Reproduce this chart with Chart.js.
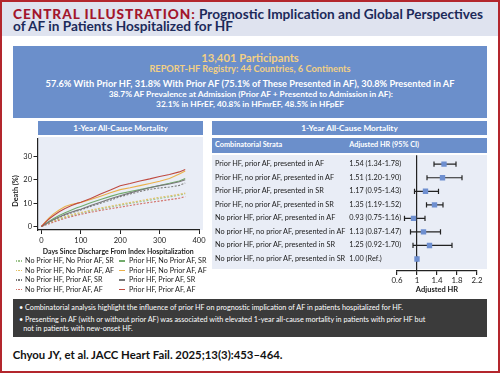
<!DOCTYPE html>
<html><head><meta charset="utf-8">
<script src="https://cdn.jsdelivr.net/npm/chart.js@4.4.1/dist/chart.umd.min.js"></script>
<style>
html,body{margin:0;padding:0;background:#fff;}
#root{position:relative;width:500px;height:373px;overflow:hidden;font-family:Lato,'Noto Sans',sans-serif;}
.abs{position:absolute;white-space:nowrap;line-height:1;}
canvas{position:absolute;}
</style></head><body>
<div id="root">
  <div class="abs" style="left:2px;top:2px;width:496px;height:34px;background:#dfe3ef"></div>
  <div class="abs" style="left:13px;top:46px;width:474px;height:72px;background:#6b8fcb"></div>
  <div class="abs" style="left:38px;top:121px;width:165px;height:14px;background:#6b8fcb"></div>
  <div class="abs" style="left:212px;top:121px;width:275px;height:14px;background:#6b8fcb"></div>
  <div class="abs" style="left:212px;top:138px;width:275px;height:14.5px;background:#6b8fcb"></div>
  <div class="abs" style="left:212px;top:155px;width:275px;height:114px;background:#e9edf6"></div>
  <div class="abs" style="left:38px;top:137px;width:165px;height:93px;background:#e9edf6"></div>
  <div class="abs" style="left:13px;top:299px;width:474px;height:38px;background:#3b3b3b"></div>
  <canvas id="km" width="210" height="127" style="left:0;top:133px;width:210px;height:127px"></canvas>
  <canvas id="forest" width="275" height="148" style="left:212px;top:150px;width:275px;height:148px"></canvas>
  <div class="abs" style="left:0;top:0;width:500px;height:373px;border:2px solid #b3262d;box-sizing:border-box;"></div>
</div>
<script>
// ---------- DATA ----------
const days = [0,10,20,30,45,60,75,90,100,125,150,175,200,225,250,275,300,325,350,365];
const seriesNames = [
  "No Prior HF, No Prior AF, SR","No Prior HF, No Prior AF, AF","No Prior HF, Prior AF, SR","No Prior HF, Prior AF, AF",
  "Prior HF, No Prior AF, SR","Prior HF, No Prior AF, AF","Prior HF, Prior AF, SR","Prior HF, Prior AF, AF"
];
const nphfNpafSR = [0,0.8,1.5,2.2,3.1,3.9,4.6,5.2,5.6,6.6,7.5,8.3,9.1,9.9,10.6,11.3,12.0,12.7,13.4,14.0];
const nphfNpafAF = [0,0.9,1.7,2.5,3.4,4.2,5.0,5.6,6.0,7.0,7.9,8.7,9.5,10.3,11.0,11.8,12.5,13.1,13.8,14.3];
const nphfPafSR  = [0,1.0,1.9,2.8,3.9,4.9,5.8,6.6,7.1,8.6,10.0,11.3,12.8,13.9,15.0,15.9,16.5,16.9,17.6,18.6];
const nphfPafAF  = [0,0.6,1.2,1.8,2.7,3.5,4.2,4.8,5.2,6.1,6.9,7.6,8.3,9.0,9.7,10.3,10.9,11.5,12.1,12.8];
const phfNpafSR  = [0,1.2,2.3,3.3,4.7,5.9,7.0,8.0,8.6,10.2,11.6,12.9,14.1,15.0,15.8,16.7,17.6,18.5,19.5,20.6];
const phfNpafAF  = [0,2.0,3.8,5.3,7.1,8.6,9.4,9.9,10.3,11.6,13.0,14.5,15.8,16.6,17.5,18.4,19.4,20.6,22.5,23.8];
const phfPafSR   = [0,1.0,2.0,2.9,4.1,5.2,6.1,6.9,7.4,9.0,10.4,11.9,13.2,14.4,15.5,16.6,17.5,18.2,19.2,20.0];
const phfPafAF   = [0,1.8,3.3,4.6,6.3,7.7,8.9,9.9,10.4,12.0,13.9,15.6,17.5,18.4,19.5,20.4,21.4,22.3,23.4,24.4];
const seriesValues = [nphfNpafSR,nphfNpafAF,nphfPafSR,nphfPafAF,phfNpafSR,phfNpafAF,phfPafSR,phfPafAF];
const seriesColors = ["#9cc48c","#e2c063","#7a7a7a","#d2726a","#72ab6c","#eab04a","#777777","#bf4a40"];
const seriesDashed = [true,true,true,true,false,false,false,false];
const dayTicks = [0,100,200,300,400];
const deathTicks = [0,10,20,30];

const strata = [
  "Prior HF, prior AF, presented in AF","Prior HF, no prior AF, presented in AF",
  "Prior HF, prior AF, presented in SR","Prior HF, no prior AF, presented in SR",
  "No prior HF, prior AF, presented in AF","No prior HF, no prior AF, presented in AF",
  "No prior HF, prior AF, presented in SR","No prior HF, no prior AF, presented in SR"
];
const hr   = [1.54,1.51,1.17,1.35,0.93,1.13,1.25,1.00];
const hrLo = [1.34,1.20,0.95,1.19,0.75,0.87,0.92,1.00];
const hrHi = [1.78,1.90,1.43,1.52,1.16,1.47,1.70,1.00];
const hrText = ["1.54 (1.34-1.78)","1.51 (1.20-1.90)","1.17 (0.95-1.43)","1.35 (1.19-1.52)",
  "0.93 (0.75-1.16)","1.13 (0.87-1.47)","1.25 (0.92-1.70)","1.00 (Ref.)"];
const hrTicks = [0.6,1,1.4,1.8,2.2];

// ---------- helpers ----------
const root = document.getElementById('root');
const FAM = "Lato, 'Noto Sans', sans-serif";
function put(html, x, y, o) {
  const d = document.createElement('div');
  d.className = 'abs';
  d.innerHTML = html;
  d.style.left = x + 'px'; d.style.top = y + 'px';
  d.style.fontSize = (o.size || 8) + 'px';
  d.style.fontWeight = o.weight || 'normal';
  d.style.color = o.color || '#1a1a1a';
  d.style.transform = (o.center ? 'translate(-50%,-50%)' : 'translateY(-50%)') + (o.rot ? ' rotate(-90deg)' : '');
  root.insertBefore(d, root.lastElementChild);
  if (o.fit) {
    const w = d.scrollWidth;
    d.style.fontSize = ((o.size || 8) * o.fit / w) + 'px';
  }
  return d;
}
function canvasSize(text, weight, target) {
  const c = document.createElement('canvas').getContext('2d');
  c.font = weight + ' 10px ' + FAM;
  return 10 * target / c.measureText(text).width;
}

// ---------- texts ----------
const t1 = put('<span style="color:#a3162c;font-weight:900;letter-spacing:0.07em">CENTRAL ILLUSTRATION:</span> <span style="color:#1c2a5a">Prognostic Implication and Global Perspectives</span>', 13, 14.5, {size:12, weight:'bold', fit:470});
put('of AF in Patients Hospitalized for HF', 13, 27, {size:parseFloat(t1.style.fontSize), weight:'bold', color:'#1c2a5a'});

put('13,401 Participants', 250, 57.5, {center:true, weight:'bold', color:'#f2cf85', fit:97});
put('REPORT-HF Registry: 44 Countries, 6 Continents', 250, 69, {center:true, weight:'bold', color:'#f2cf85', fit:201});
put('57.6% With Prior HF, 31.8% With Prior AF (75.1% of These Presented in AF), 30.8% Presented in AF', 250, 84.3, {center:true, weight:'bold', color:'#fff', fit:410});
put('38.7% AF Prevalence at Admission (Prior AF + Presented to Admission in AF):', 250.8, 94.3, {center:true, weight:'bold', color:'#fff', fit:285});
put('32.1% in HFrEF, 40.8% in HFmrEF, 48.5% in HFpEF', 250, 104, {center:true, weight:'bold', color:'#fff', fit:188});

put('1-Year All-Cause Mortality', 120.5, 128, {center:true, weight:'bold', color:'#fff', fit:95});
put('1-Year All-Cause Mortality', 349.5, 128, {center:true, weight:'bold', color:'#fff', fit:97});
put('Combinatorial Strata', 215, 145.3, {weight:'bold', color:'#fff', fit:67});
put('Adjusted HR (95% CI)', 349.3, 145.3, {weight:'bold', color:'#fff', fit:70});

const b1 = put('• Combinatorial analysis highlight the influence of prior HF on prognostic implication of AF in patients hospitalized for HF.', 19, 308.3, {color:'#fff', fit:384});
const bs = parseFloat(b1.style.fontSize);
put('• Presenting in AF (with or without prior AF) was associated with elevated 1-year all-cause mortality in patients with prior HF but', 19, 320, {color:'#fff', size:bs});
put('not in patients with new-onset HF.', 23.3, 329.3, {color:'#fff', size:bs});
put('Chyou JY, et al. JACC Heart Fail. 2025;13(3):453–464.', 12.7, 355, {weight:'bold', color:'#111', fit:270});

// y-axis title of the KM chart (real text, rotated)
put('Death (%)', 16, 191, {center:true, rot:true, weight:'bold', color:'#222', size:7.3});

// ---------- KM chart ----------
const tickSize = canvasSize('100', 'normal', 13);
const xTitleSize = canvasSize('Days Since Discharge From Index Hospitalization', 'bold', 151);
new Chart(document.getElementById('km'), {
  type: 'line',
  data: {
    labels: days,
    datasets: seriesNames.map((n, i) => ({
      label: n,
      data: days.map((d, k) => ({x: d, y: seriesValues[i][k]})),
      borderColor: seriesColors[i],
      borderWidth: 1.1,
      borderDash: seriesDashed[i] ? [2, 1.5] : [],
      pointRadius: 0, tension: 0, fill: false,
      order: seriesDashed[i] ? 8 - i : 7 - i
    }))
  },
  options: {
    responsive: false, animation: false, devicePixelRatio: 1,
    layout: {padding: {left: 0, right: 11, top: 5, bottom: 0}},
    plugins: {legend: {display: false}, tooltip: {enabled: false}},
    scales: {
      x: {
        type: 'linear', min: -10, max: 400,
        afterBuildTicks: s => { s.ticks = dayTicks.map(v => ({value: v})); },
        afterFit: s => { s.height = 30; },
        grid: {drawOnChartArea: false, tickLength: 4, color: '#222', tickColor: '#222', lineWidth: 1},
        border: {color: '#222', width: 1.2},
        ticks: {font: {size: tickSize, family: FAM}, color: '#222', padding: 2, maxRotation: 0, autoSkip: false},
        title: {display: true, text: 'Days Since Discharge From Index Hospitalization', color: '#222',
                font: {size: xTitleSize, weight: 'bold', family: FAM}, padding: {top: 0, bottom: 4}}
      },
      y: {
        type: 'linear', min: -1.5, max: 37.5,
        afterBuildTicks: s => { s.ticks = deathTicks.map(v => ({value: v})); },
        afterFit: s => { s.width = 37.5; },
        grid: {drawOnChartArea: false, tickLength: 4, color: '#222', tickColor: '#222', lineWidth: 1},
        border: {color: '#222', width: 1.2},
        ticks: {font: {size: tickSize, family: FAM}, color: '#222', padding: 1.5}
      }
    }
  }
});

// legend (HTML)
const legRows = [261, 270.5, 280, 289.5];
const legMarkX = [15.5, 119], legTextX = [25, 129];
seriesNames.forEach((n, i) => {
  const col = i < 4 ? 0 : 1, row = i % 4;
  const m = document.createElement('div');
  m.className = 'abs';
  m.style.left = legMarkX[col] + 'px'; m.style.top = (legRows[row] - 0.75) + 'px';
  m.style.width = '6px'; m.style.height = '1.5px';
  m.style.background = seriesDashed[i]
    ? `repeating-linear-gradient(90deg, ${seriesColors[i]} 0 1.5px, transparent 1.5px 2.3px)`
    : seriesColors[i];
  root.insertBefore(m, root.lastElementChild);
});
const l0 = put(seriesNames[0], legTextX[0], legRows[0], {color:'#222', fit:89});
const ls = parseFloat(l0.style.fontSize);
seriesNames.forEach((n, i) => {
  if (i === 0) return;
  const col = i < 4 ? 0 : 1, row = i % 4;
  put(n, legTextX[col], legRows[row], {color:'#222', size:ls});
});

// ---------- forest ----------
const rowIdx = strata.map((s, i) => i);
const fTick = canvasSize('0.6', 'normal', 11);
const forestDatasets = [
  {label: 'HR', data: rowIdx.map(i => ({x: hr[i], y: i})), pointStyle: 'rect', pointRadius: 3.8,
   backgroundColor: '#6e8fd0', borderColor: '#6e8fd0', borderWidth: 0, showLine: false, order: 0},
  {label: 'lo', data: rowIdx.map(i => ({x: hrLo[i], y: i})), pointStyle: 'line', rotation: 90, pointRadius: 2.6,
   borderColor: '#222', borderWidth: 1.2, showLine: false, order: 1},
  {label: 'hi', data: rowIdx.map(i => ({x: hrHi[i], y: i})), pointStyle: 'line', rotation: 90, pointRadius: 2.6,
   borderColor: '#222', borderWidth: 1.2, showLine: false, order: 1},
  ...rowIdx.map(i => ({type: 'line', label: 'ci' + i, data: [{x: hrLo[i], y: i}, {x: hrHi[i], y: i}],
   borderColor: '#222', borderWidth: 1.2, pointRadius: 0, showLine: true, order: 2}))
];
const forest = new Chart(document.getElementById('forest'), {
  type: 'scatter',
  data: {datasets: forestDatasets},
  options: {
    responsive: false, animation: false, devicePixelRatio: 1,
    layout: {padding: {left: 185, right: 10, top: 5, bottom: 0}},
    plugins: {legend: {display: false}, tooltip: {enabled: false}},
    scales: {
      x: {
        type: 'linear', min: 0.6, max: 2.2,
        afterBuildTicks: s => { s.ticks = hrTicks.map(v => ({value: v})); },
        afterFit: s => { s.height = 27; },
        grid: {color: c => (c.tick && c.tick.value === 1) ? '#222' : 'transparent', tickColor: '#222', tickLength: 4, lineWidth: 1.2},
        border: {display: true, color: '#222', width: 1.2},
        ticks: {font: {size: fTick, family: FAM}, color: '#222', padding: 1, maxRotation: 0, autoSkip: false,
                callback: v => String(v)},
        title: {display: true, text: 'Adjusted HR', color: '#222', font: {size: 7.5, weight: 'bold', family: FAM},
                padding: {top: 0, bottom: 3.5}}
      },
      y: {type: 'linear', display: false, min: -0.663, max: 7.885, reverse: true}
    }
  }
});
const ys = forest.scales.y;
const r0 = put(strata[0], 215, 150 + ys.getPixelForValue(0), {color:'#1a1a1a', fit:109});
const rs = parseFloat(r0.style.fontSize);
strata.forEach((s, i) => {
  const y = 150 + ys.getPixelForValue(i);
  if (i) put(s, 215, y, {color:'#1a1a1a', size:rs});
  put(hrText[i], 349.3, y, {color:'#1a1a1a', size:rs});
});
</script>
</body></html>
